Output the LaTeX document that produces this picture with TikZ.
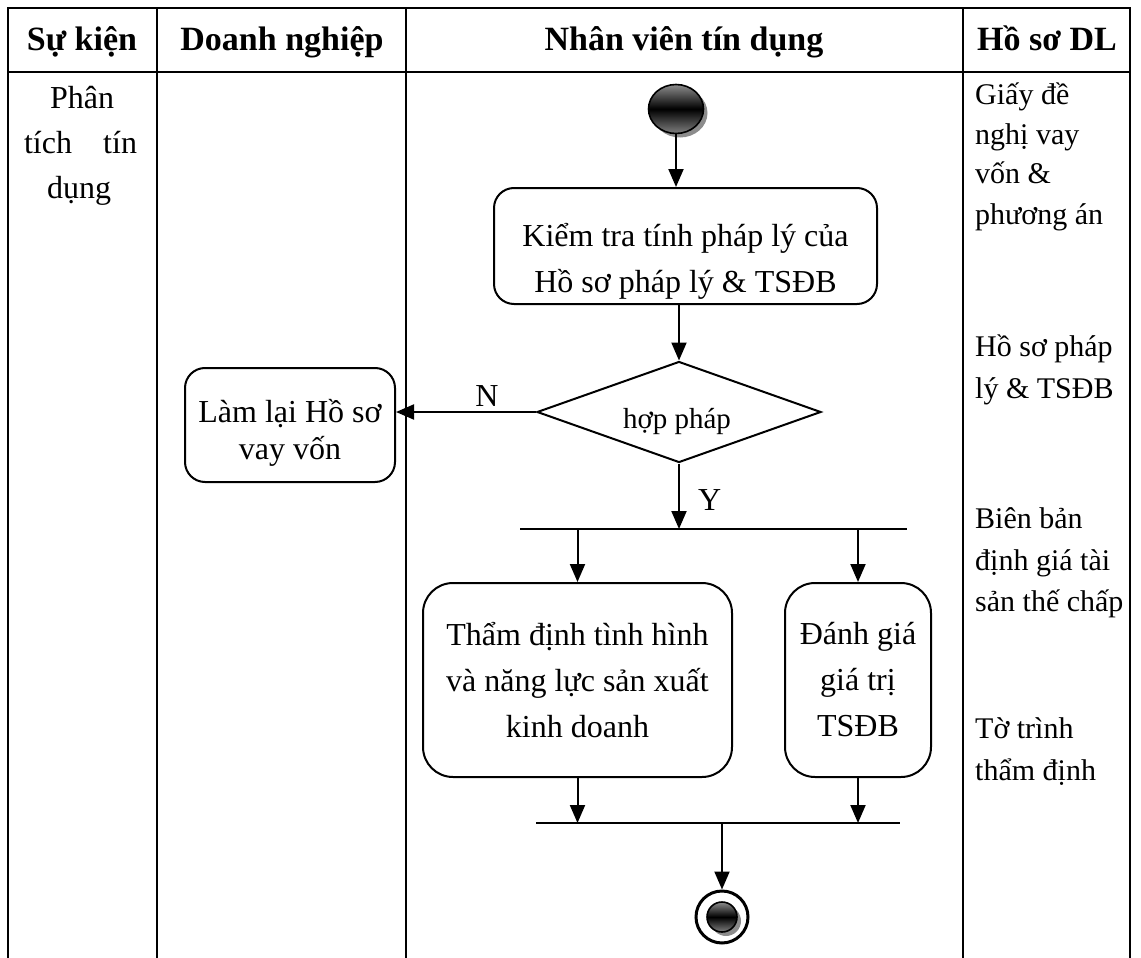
\documentclass[tikz,border=0pt]{standalone}
\usepackage{fontspec}
\setmainfont{Liberation Serif}
\usetikzlibrary{arrows.meta,shapes.geometric,shadows,calc}

\newcommand\fbody{\fontsize{32}{46}\selectfont}
\newcommand\fhead{\fontsize{34}{40}\selectfont\bfseries}
\newcommand\fside{\fontsize{30}{42}\selectfont}

\tikzset{
  tbl/.style={line width=2.2pt},
  bar/.style={line width=2pt},
  flow/.style={line width=2pt, -{Triangle[length=18pt,width=15pt]}},
  act/.style={draw, line width=2pt, inner sep=0pt},
  txt/.style={align=center, font=\fbody, inner sep=0pt},
  head/.style={font=\fhead, anchor=base, inner sep=0pt},
  side/.style={font=\fside, anchor=base west, inner sep=0pt},
  ev/.style={font=\fbody, anchor=base, inner sep=0pt},
  blob/.style={ellipse, draw, line width=1.6pt, inner sep=0pt,
    top color=black!45, bottom color=black!50, middle color=black,
    drop shadow={shadow xshift=4pt, shadow yshift=-4pt, fill=black!45, opacity=1}},
}

\begin{document}
\begin{tikzpicture}[x=1pt,y=-1pt]
\useasboundingbox (0,0) rectangle (1141,958);

% swimlane table
\draw[tbl] (8,958) -- (8,8) -- (1130,8) -- (1130,958);
\draw[tbl] (8,72) -- (1130,72);
\foreach \cx in {157,406,963} \draw[tbl] (\cx,8) -- (\cx,958);

% column headers
\node[head] (h1) at (82,51) {Sự kiện};
\node[head] (h2) at (282,51) {Doanh nghiệp};
\node[head] (h3) at (684,51) {Nhân viên tín dụng};
\node[head] (h4) at (1047,51) {Hồ sơ DL};

% event column
\node[ev] (ev1) at (82,108) {Phân};
\node[ev] (ev2) at (80.5,153) {\makebox[113pt][s]{tích\hfill tín}};
\node[ev] (ev3) at (79,198) {dụng};

% data records column
\foreach \t/\yy [count=\i] in {Giấy đề/104, nghị vay/144, vốn \&/183, phương án/224,
    Hồ sơ pháp/356, lý \& TSĐB/398,
    Biên bản/528, định giá tài/570, sản thế chấp/611,
    Tờ trình/738, thẩm định/780}
  \node[side] (doc\i) at (975,\yy) {\t};

% activity flow
\node[blob, minimum width=55pt, minimum height=49pt] (start) at (676,109) {};

\node[act, rounded corners=20pt, minimum width=383pt, minimum height=116pt]
  (chk) at (685.5,246) {};
\node[txt] (chktext) at ($(chk.center)+(0,15)$) {Kiểm tra tính pháp lý của\\Hồ sơ pháp lý \& TSĐB};

\node[diamond, draw, line width=2pt, inner sep=0pt,
  minimum width=284pt, minimum height=101pt] (dec) at (679,412) {};
\node[font=\fontsize{29}{34}\selectfont, inner sep=0pt, anchor=base] (declbl) at (677,428) {hợp pháp};

\node[act, rounded corners=20pt, minimum width=210pt, minimum height=114pt]
  (redo) at (290,425) {};
\node[txt, font=\fontsize{32}{37}\selectfont] (redotext) at ($(redo.center)+(0,8)$) {Làm lại Hồ sơ\\vay vốn};

\node[act, txt, rounded corners=30pt, minimum width=309pt, minimum height=194pt]
  (biz) at (577.5,680) {Thẩm định tình hình\\và năng lực sản xuất\\kinh doanh};
\node[act, txt, rounded corners=30pt, minimum width=146pt, minimum height=194pt]
  (tsdb) at (858,680) {Đánh giá\\giá trị\\TSĐB};

\coordinate (fkL) at (520,529);
\coordinate (fkR) at (907,529);
\coordinate (jnL) at (536,823);
\coordinate (jnR) at (900,823);

\node[circle, draw, line width=3pt, fill=white, minimum size=52pt, inner sep=0pt] (stop) at (722,917) {};
\node[blob, circle, minimum size=30pt] (stopdot) at (722,917) {};

\draw[flow] (start.south) -- (start.south |- chk.north);
\draw[flow] (dec.north |- chk.south) -- (dec.north);
\draw[flow] (dec.west) -- (dec.west -| redo.east)
  node[pos=0.35, above=5pt, font=\fbody, inner sep=0pt] (nlbl) {N};
\draw[flow] (dec.south) -- (dec.south |- fkL)
  node[pos=0.55, right=18pt, font=\fbody, inner sep=0pt] (ylbl) {Y};
\draw[bar] (fkL) -- (fkR);
\draw[flow] (fkL -| biz.north) -- (biz.north);
\draw[flow] (fkL -| tsdb.north) -- (tsdb.north);
\draw[flow] (biz.south) -- (biz.south |- jnL);
\draw[flow] (tsdb.south) -- (tsdb.south |- jnL);
\draw[bar] (jnL) -- (jnR);
\draw[flow] (stop.north |- jnL) -- (stop.north);
\end{tikzpicture}
\end{document}
